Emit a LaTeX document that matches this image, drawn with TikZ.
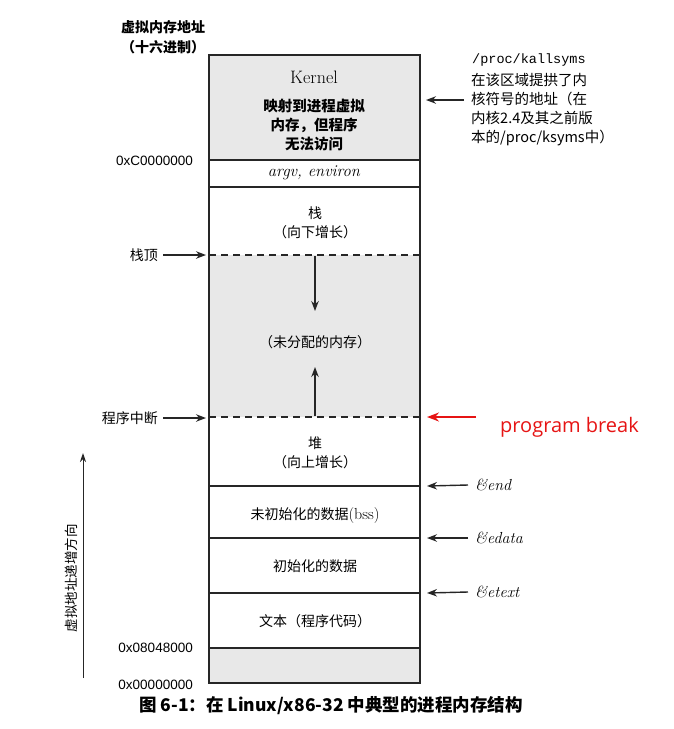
\documentclass[tikz,border=0pt]{standalone}
\usepackage{fontspec}
\usetikzlibrary{arrows.meta}
\newfontfamily\cjk{Noto Sans CJK SC}
\newfontfamily\hexf{Liberation Sans}
\newfontfamily\monof{Liberation Mono}
\newfontfamily\pbf{Open Sans}
\definecolor{fillgray}{RGB}{232,232,232}
\definecolor{pbred}{RGB}{230,20,20}
\tikzset{
  boxline/.style={line width=1.7pt, black!85},
  dashline/.style={line width=1.7pt, black!85, dash pattern=on 7pt off 5pt},
  arr/.style={line width=1.4pt, black!85, -{Stealth[length=10pt,width=7.5pt]}},
  redarr/.style={line width=1.8pt, pbred, -{Stealth[length=12pt,width=9pt]}},
  seg/.style={font=\cjk\fontsize{14}{19}\selectfont, align=center, inner sep=0pt},
  lbl/.style={font=\cjk\fontsize{14}{19}\selectfont, inner sep=0pt},
  hexlbl/.style={font=\hexf\fontsize{13.5}{15}\selectfont, inner sep=0pt, anchor=east},
  sym/.style={font=\fontsize{16}{18}\selectfont\itshape, inner sep=0pt, anchor=west},
}
\begin{document}
\begin{tikzpicture}[x=1pt,y=-1pt]
\useasboundingbox (0,0) rectangle (673,729);
% fills
\fill[fillgray] (209,55) rectangle (420,160);
\fill[fillgray] (209,255) rectangle (420,417);
\fill[fillgray] (209,648) rectangle (420,683);
% box
\draw[boxline] (209,55) rectangle (420,683);
\draw[boxline] (209,160) -- (420,160);
\draw[boxline] (209,187) -- (420,187);
\draw[dashline] (209,255) -- (420,255);
\draw[dashline] (209,417) -- (420,417);
\draw[boxline] (209,486) -- (420,486);
\draw[boxline] (209,538) -- (420,538);
\draw[boxline] (209,593) -- (420,593);
\draw[boxline] (209,648) -- (420,648);

% top-left title
\node[seg, font=\cjk\bfseries\fontsize{14}{20}\selectfont] (title) at (163,37) {虚拟内存地址\\（十六进制）};

% segment texts
\node[inner sep=0pt, font=\fontsize{18}{20}\selectfont] (kernel) at (314,77) {Kernel};
\node[seg, font=\cjk\bfseries\fontsize{14.5}{19}\selectfont] (kdesc) at (314,125) {映射到进程虚拟\\内存，但程序\\无法访问};
\node[inner sep=0pt, font=\fontsize{16.5}{18}\selectfont\itshape] (argv) at (314,173) {argv, environ};
\node[seg] (stack) at (315,223) {栈\\（向下增长）};
\node[seg] (unalloc) at (315,342) {（未分配的内存）};
\node[seg] (heap) at (315,453) {堆\\（向上增长）};
\node[seg] (bss) at (315,515) {{\cjk 未初始化的数据}{\rmfamily\fontsize{16}{18}\selectfont(bss)}};
\node[seg] (data) at (315,566) {初始化的数据};
\node[seg] (text) at (315,621) {文本（程序代码）};

% inner arrows
\coordinate (downtip) at (315,311);
\coordinate (downtail) at (315,256);
\draw[arr] (downtail) -- (downtip);
\coordinate (uptip) at (315,367);
\coordinate (uptail) at (315,416);
\draw[arr] (uptail) -- (uptip);

% left labels
\node[hexlbl] (hexC) at (193,161) {0xC0000000};
\node[hexlbl] (hex8) at (193,648) {0x08048000};
\node[hexlbl] (hex0) at (193,685) {0x00000000};

\node[lbl, anchor=east] (stacktop) at (158,255) {栈顶};
\coordinate (stacktoptip) at (206,255);
\draw[arr] (stacktop.east) ++(5,0) -- (stacktoptip);
\node[lbl, anchor=east] (brk) at (158,418) {程序中断};
\coordinate (brktip) at (206,418);
\draw[arr] (brk.east) ++(5,0) -- (brktip);

% vertical direction arrow
\coordinate (vbot) at (83,678);
\coordinate (vtop) at (83,453);
\draw[line width=1pt, black!85, -{Stealth[length=9pt,width=6pt]}] (vbot) -- (vtop);
\node[lbl, rotate=90, font=\cjk\fontsize{13.5}{16}\selectfont] (vdir) at (71,578) {虚拟地址递增方向};

% right side: kallsyms
\node[inner sep=0pt, anchor=west, font=\monof\fontsize{13.5}{15}\selectfont] (kall) at (472,60) {/proc/kallsyms};
\node[inner sep=0pt, anchor=north west, align=left, font=\cjk\fontsize{14.5}{19}\selectfont] (kalldesc) at (471,73) {在该区域提拱了内\\核符号的地址（在\\内核2.4及其之前版\\本的/proc/ksyms中）};
\coordinate (ktip) at (426,100);
\coordinate (ktail) at (464,100);
\draw[arr] (ktail) -- (ktip);

% program break
\node[inner sep=0pt, anchor=west, text=pbred, font=\pbf\fontsize{20}{22}\selectfont] (pb) at (500,427) {program break};
\coordinate (pbtip) at (427,417);
\coordinate (pbtail) at (476,417);
\draw[redarr] (pbtail) -- (pbtip);

% symbols
\node[sym] (end) at (475,485) {\&end};
\coordinate (endtip) at (427,486);
\draw[arr] (end.west) ++(-7,0) -- (endtip);
\node[sym] (edata) at (475,538) {\&edata};
\coordinate (edatatip) at (427,538);
\draw[arr] (edata.west) ++(-7,0) -- (edatatip);
\node[sym] (etext) at (475,592) {\&etext};
\coordinate (etexttip) at (427,593);
\draw[arr] (etext.west) ++(-7,0) -- (etexttip);

% caption
\node[inner sep=0pt, font=\cjk\bfseries\fontsize{17.5}{19}\selectfont] (caption) at (331,706) {图 6-1：在 Linux/x86-32 中典型的进程内存结构};
\end{tikzpicture}
\end{document}
